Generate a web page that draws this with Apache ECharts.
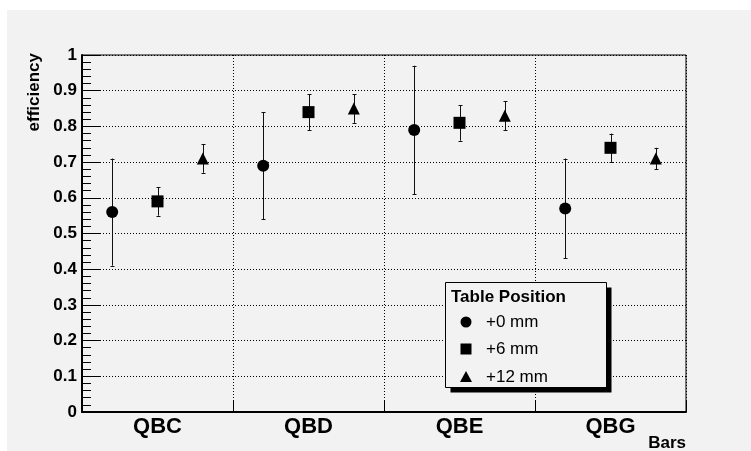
<!DOCTYPE html>
<html>
<head>
<meta charset="utf-8">
<script src="https://cdn.jsdelivr.net/npm/echarts@6/dist/echarts.min.js"></script>
<style>
  html, body { margin: 0; padding: 0; background: #ffffff; }
  #chart { width: 751px; height: 451px; }
</style>
</head>
<body>
<div id="chart"></div>
<script>
// Bar categories along x and the three table positions
const categories = ['QBC', 'QBD', 'QBE', 'QBG'];
const positions = ['+0 mm', '+6 mm', '+12 mm'];
// x location of each table position inside its bar bin
const binOffsets = [0.2, 0.5, 0.8];

// Efficiency and symmetric uncertainty per bar
const eff0 = [0.56, 0.69, 0.79, 0.57];
const err0 = [0.15, 0.15, 0.18, 0.14];
const eff6 = [0.59, 0.84, 0.81, 0.74];
const err6 = [0.04, 0.05, 0.05, 0.04];
const eff12 = [0.71, 0.85, 0.83, 0.71];
const err12 = [0.04, 0.04, 0.04, 0.03];

const yTickLabels = ['0', '0.1', '0.2', '0.3', '0.4', '0.5', '0.6', '0.7', '0.8', '0.9', '1'];

const FONT = 'Liberation Sans, Arial, Helvetica, sans-serif';
const BG = '#f2f2f2';
const symbols = ['circle', 'rect', 'triangle'];
const effs = [eff0, eff6, eff12];
const errs = [err0, err6, err12];

function markerSeries(k) {
  return {
    name: positions[k],
    type: 'scatter',
    xAxisIndex: 1,
    symbol: symbols[k],
    symbolSize: 12,
    itemStyle: { color: '#000', opacity: 1 },
    z: 4,
    silent: true,
    data: effs[k].map((v, i) => [i + binOffsets[k], v])
  };
}

function errorSeries(k) {
  return {
    name: positions[k] + ' err',
    type: 'custom',
    xAxisIndex: 1,
    z: 3,
    silent: true,
    data: effs[k].map((v, i) => [i + binOffsets[k], v - errs[k][i], v + errs[k][i]]),
    renderItem(params, api) {
      const lo = api.coord([api.value(0), api.value(1)]);
      const hi = api.coord([api.value(0), api.value(2)]);
      const x = Math.round(lo[0]) + 0.5;
      const st = { stroke: '#111', lineWidth: 1 };
      return {
        type: 'group',
        children: [
          { type: 'line', shape: { x1: x, y1: lo[1], x2: x, y2: hi[1] }, style: st },
          { type: 'line', shape: { x1: x - 2, y1: Math.round(lo[1]) + 0.5, x2: x + 2, y2: Math.round(lo[1]) + 0.5 }, style: st },
          { type: 'line', shape: { x1: x - 2, y1: Math.round(hi[1]) + 0.5, x2: x + 2, y2: Math.round(hi[1]) + 0.5 }, style: st }
        ]
      };
    }
  };
}

const series = [];
for (let k = 0; k < 3; k++) { series.push(errorSeries(k)); }
for (let k = 0; k < 3; k++) { series.push(markerSeries(k)); }

// Legend box drawn as a framed panel with a drop shadow
const legendX = 445.5, legendY = 282.5, legendW = 161, legendH = 105;
const legendRows = [322, 349, 377];
const legendMarkers = [
  { type: 'circle', shape: { cx: 466, cy: legendRows[0], r: 5.5 }, style: { fill: '#000' } },
  { type: 'rect', shape: { x: 460.5, y: legendRows[1] - 5.5, width: 11, height: 11 }, style: { fill: '#000' } },
  { type: 'polygon', shape: { points: [[466, legendRows[2] - 6], [472, legendRows[2] + 5], [460, legendRows[2] + 5]] }, style: { fill: '#000' } }
];

const graphic = [
  { type: 'rect', z: -10, silent: true, shape: { x: 7, y: 10, width: 744, height: 441 }, style: { fill: BG } },
  {
    type: 'text', x: 34, y: 53, rotation: Math.PI / 2, silent: true,
    style: { text: 'efficiency', x: 0, y: 0, align: 'right', verticalAlign: 'middle', font: 'bold 17px ' + FONT, fill: '#000' }
  },
  {
    type: 'text', x: 686, y: 443, silent: true,
    style: { text: 'Bars', align: 'right', verticalAlign: 'middle', font: 'bold 17px ' + FONT, fill: '#000' }
  },
  { type: 'rect', z: 10, silent: true, shape: { x: legendX + 5, y: legendY + 5, width: legendW, height: legendH }, style: { fill: '#000' } },
  { type: 'rect', z: 11, silent: true, shape: { x: legendX, y: legendY, width: legendW, height: legendH }, style: { fill: BG, stroke: '#000', lineWidth: 1 } },
  {
    type: 'text', z: 12, x: 451, y: 297, silent: true,
    style: { text: 'Table Position', align: 'left', verticalAlign: 'middle', font: 'bold 17px ' + FONT, fill: '#000' }
  }
];
legendMarkers.forEach(m => { m.z = 12; m.silent = true; graphic.push(m); });
positions.forEach((p, k) => {
  graphic.push({
    type: 'text', z: 12, x: 486, y: legendRows[k], silent: true,
    style: { text: p, align: 'left', verticalAlign: 'middle', font: '17px ' + FONT, fill: '#000' }
  });
});

const chart = echarts.init(document.getElementById('chart'), null, { renderer: 'canvas' });
chart.setOption({
  backgroundColor: '#ffffff',
  animation: false,
  grid: {
    left: 82, top: 55, right: 65, bottom: 39,
    show: true, borderColor: '#000', borderWidth: 1, backgroundColor: 'transparent'
  },
  xAxis: [
    {
      type: 'category',
      data: categories,
      boundaryGap: true,
      axisLine: { lineStyle: { color: '#000', width: 2 } },
      axisTick: { show: true, inside: true, length: 11, lineStyle: { color: '#000', width: 1 } },
      axisLabel: { fontFamily: FONT, fontSize: 22, fontWeight: 'bold', color: '#000', margin: 4 },
      splitLine: { show: true, lineStyle: { color: '#000', width: 1, type: [1, 2] } }
    },
    { type: 'value', min: 0, max: 4, show: false }
  ],
  yAxis: {
    type: 'value',
    min: 0, max: 1, interval: 0.1,
    axisLine: { show: true, lineStyle: { color: '#000', width: 2 } },
    axisTick: { show: true, inside: true, length: 18, lineStyle: { color: '#000', width: 1 } },
    minorTick: { show: true, splitNumber: 5, length: 9, lineStyle: { color: '#000', width: 1 } },
    axisLabel: {
      fontFamily: FONT, fontSize: 17, fontWeight: 'bold', color: '#000', margin: 5,
      formatter: v => yTickLabels[Math.round(v * 10)]
    },
    splitLine: { show: true, lineStyle: { color: '#000', width: 1, type: [1, 2] } }
  },
  graphic: graphic,
  series: series
});
</script>
</body>
</html>
